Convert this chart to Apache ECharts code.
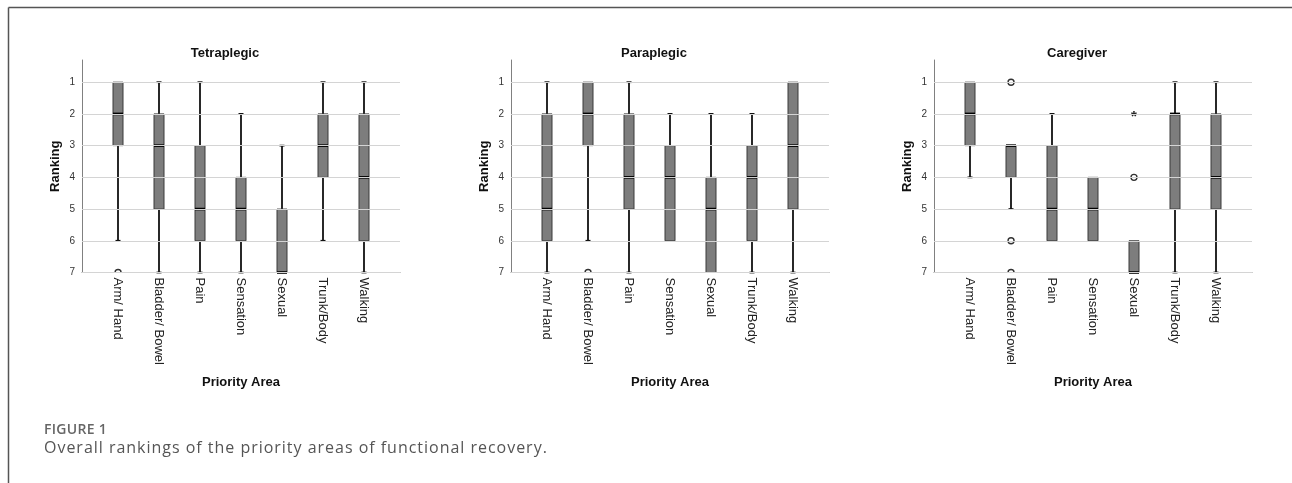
<!DOCTYPE html>
<html><head><meta charset="utf-8">
<script src="https://cdn.jsdelivr.net/npm/echarts@6/dist/echarts.min.js"></script>
<style>
html,body{margin:0;padding:0;background:#fff;}
#wrap{position:relative;width:1292px;height:483px;overflow:hidden;}
#c{position:absolute;left:0;top:0;width:1292px;height:483px;}
#fig{position:absolute;left:44px;top:419px;font:600 14px "Open Sans",sans-serif;color:#666;letter-spacing:0.3px;white-space:nowrap;}
#cap{position:absolute;left:44px;top:436px;font:400 16px "Open Sans",sans-serif;color:#555;letter-spacing:0.98px;white-space:nowrap;}
</style>
</head><body><div id="wrap"><div id="c"></div><div id="fig"></div><div id="cap"></div></div>
<script>
const categories = ['Arm/ Hand','Bladder/ Bowel','Pain','Sensation','Sexual','Trunk/Body','Walking'];
const panelTitles = ['Tetraplegic','Paraplegic','Caregiver'];
const rankTicks = [1,2,3,4,5,6,7];
// [min, Q1, median, Q3, max] in rank units
const tetraBoxes = [[1,1,2,3,6],[1,2,3,5,7],[1,3,5,6,7],[2,4,5,6,7],[3,5,7,7,7],[1,2,3,4,6],[1,2,4,6,7]];
const paraBoxes  = [[1,2,5,6,7],[1,1,2,3,6],[1,2,4,5,7],[2,3,4,6,6],[2,4,5,7,7],[2,3,4,6,7],[1,1,3,5,7]];
const careBoxes  = [[1,1,2,3,4],[3,3,3,4,5],[2,3,5,6,6],[4,4,5,6,6],[6,6,7,7,7],[1,2,2,5,7],[1,2,4,5,7]];
// outliers: category index, rank
const tetraOutlierCats = [0];       const tetraOutlierRanks = [7];
const paraOutlierCats  = [1];       const paraOutlierRanks  = [7];
const careOutlierCats  = [1,1,1,4]; const careOutlierRanks  = [1,6,7,4];
// extreme value (star marker)
const careExtremeCats = [4]; const careExtremeRanks = [2];
const captionLabel = 'FIGURE 1';
const captionText = 'Overall rankings of the priority areas of functional recovery.';

document.getElementById('fig').textContent = captionLabel;
document.getElementById('cap').textContent = captionText;

const allBoxes = [tetraBoxes, paraBoxes, careBoxes];
const allOutliers = [
  tetraOutlierCats.map((c, i) => [c, tetraOutlierRanks[i]]),
  paraOutlierCats.map((c, i) => [c, paraOutlierRanks[i]]),
  careOutlierCats.map((c, i) => [c, careOutlierRanks[i]])
];
const allExtremes = [[], [], careExtremeCats.map((c, i) => [c, careExtremeRanks[i]])];
const gridLefts = [82, 511, 934];
const GRID_W = 318, GRID_TOP = 60, GRID_H = 212.5;
const FONT = '"Liberation Sans", Arial, sans-serif';

const grids = [], xAxes = [], yAxes = [], series = [], titles = [];
gridLefts.forEach((gl, p) => {
  grids.push({left: gl, top: GRID_TOP, width: GRID_W, height: GRID_H, containLabel: false});
  titles.push({text: panelTitles[p], left: gl + 138, top: 42, textAlign: 'center',
    textStyle: {fontFamily: FONT, fontSize: 13, fontWeight: 'bold', color: '#111'}});
  xAxes.push({type: 'value', gridIndex: p, min: -0.88, max: categories.length - 1 + 0.88,
    name: 'Priority Area', nameLocation: 'middle', nameGap: 103,
    nameTextStyle: {fontFamily: FONT, fontSize: 13, fontWeight: 'bold', color: '#111'},
    axisLine: {show: true, onZero: false, lineStyle: {color: '#808080', width: 1}},
    axisTick: {show: false},
    splitLine: {show: false},
    axisLabel: {customValues: categories.map((c, i) => i), rotate: -90, margin: 5,
      fontFamily: FONT, fontSize: 13, color: '#222',
      formatter: v => categories[Math.round(v)] || ''}});
  yAxes.push({type: 'value', gridIndex: p, min: 0.3, max: 7, inverse: true,
    name: 'Ranking', nameLocation: 'middle', nameGap: 20, nameRotate: 90,
    nameTextStyle: {fontFamily: FONT, fontSize: 13, fontWeight: 'bold', color: '#111'},
    axisLine: {show: true, onZero: false, lineStyle: {color: '#808080', width: 1}},
    axisTick: {show: false},
    splitLine: {show: false},
    axisLabel: {customValues: rankTicks, margin: 7, fontFamily: FONT, fontSize: 10, color: '#333'}});

  series.push({
    type: 'custom', xAxisIndex: p, yAxisIndex: p, clip: false,
    data: allBoxes[p].map((b, i) => [i].concat(b)), encode: {x: 0, y: [1, 2, 3, 4, 5]},
    markLine: {silent: true, symbol: 'none', label: {show: false},
      lineStyle: {color: '#d4d4d4', width: 1, type: 'solid'},
      data: rankTicks.map(r => ({yAxis: r}))},
    renderItem: (params, api) => {
      const x = api.value(0);
      const vMin = api.value(1), vQ1 = api.value(2), vMed = api.value(3), vQ3 = api.value(4), vMax = api.value(5);
      const mn = api.coord([x, vMin]);
      const q1 = api.coord([x, vQ1]);
      const md = api.coord([x, vMed]);
      const q3 = api.coord([x, vQ3]);
      const mx = api.coord([x, vMax]);
      const cx = Math.round(mn[0]), hw = 5, cw = 2.5;
      const wStyle = {stroke: '#111', lineWidth: 1.8};
      const children = [];
      if (vMin !== vQ1) {
        children.push({type: 'line', shape: {x1: cx, y1: mn[1], x2: cx, y2: q1[1]}, style: wStyle});
        children.push({type: 'line', shape: {x1: cx - cw, y1: mn[1], x2: cx + cw, y2: mn[1]}, style: wStyle});
      }
      if (vMax !== vQ3) {
        children.push({type: 'line', shape: {x1: cx, y1: q3[1], x2: cx, y2: mx[1]}, style: wStyle});
        children.push({type: 'line', shape: {x1: cx - cw, y1: mx[1], x2: cx + cw, y2: mx[1]}, style: wStyle});
      }
      children.push({type: 'rect', shape: {x: cx - hw, y: q1[1], width: hw * 2, height: q3[1] - q1[1]},
        style: {fill: '#7d7d7d', stroke: '#3a3a3a', lineWidth: 1}});
      children.push({type: 'line', shape: {x1: cx - hw, y1: md[1], x2: cx + hw, y2: md[1]},
        style: {stroke: '#000', lineWidth: 2.6}});
      return {type: 'group', children};
    }
  });
  series.push({
    type: 'custom', xAxisIndex: p, yAxisIndex: p, clip: true,
    data: allOutliers[p], encode: {x: 0, y: 1},
    renderItem: (params, api) => {
      const pt = api.coord([api.value(0), api.value(1)]);
      return {type: 'circle', shape: {cx: pt[0], cy: pt[1], r: 3},
        style: {fill: '#fff', stroke: '#333', lineWidth: 1.4}};
    }
  });
  if (allExtremes[p].length) {
    series.push({
      type: 'custom', xAxisIndex: p, yAxisIndex: p, clip: false,
      data: allExtremes[p], encode: {x: 0, y: 1},
      renderItem: (params, api) => {
        const pt = api.coord([api.value(0), api.value(1)]);
        return {type: 'text', x: pt[0], y: pt[1] + 3,
          style: {text: '*', fontFamily: FONT, fontSize: 15, fontWeight: 'bold', fill: '#222',
            align: 'center', verticalAlign: 'middle'}};
      }
    });
  }
});

const chart = echarts.init(document.getElementById('c'), null, {renderer: 'canvas'});
chart.setOption({
  animation: false,
  backgroundColor: 'transparent',
  title: titles,
  grid: grids, xAxis: xAxes, yAxis: yAxes, series,
  graphic: [
    {type: 'line', shape: {x1: 8.5, y1: 7.5, x2: 1292, y2: 7.5}, style: {stroke: '#555', lineWidth: 1.5}},
    {type: 'line', shape: {x1: 8.5, y1: 7.5, x2: 8.5, y2: 483}, style: {stroke: '#555', lineWidth: 1.5}}
  ]
});
</script></body></html>
